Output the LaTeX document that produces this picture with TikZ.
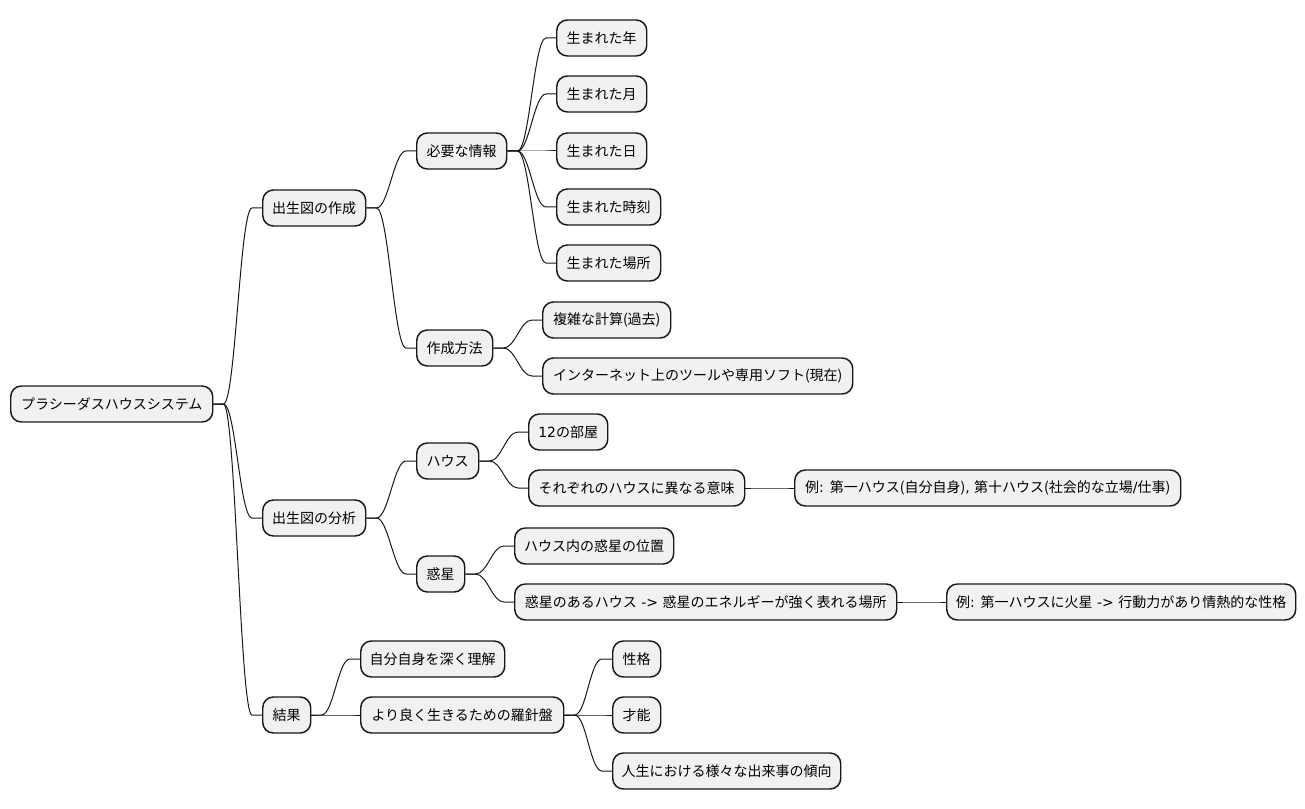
\documentclass[tikz,border=0pt]{standalone}
\usepackage{fontspec}
\setmainfont{Noto Sans CJK JP}
\newfontfamily\lat{DejaVu Sans}
\definecolor{boxfill}{HTML}{F1F1F1}
\definecolor{boxline}{HTML}{181818}
\tikzset{
  mmbox/.style={draw=boxline, fill=boxfill, line width=1.1pt, rounded corners=8pt,
    minimum height=27pt, inner xsep=0pt, inner ysep=0pt, anchor=west,
    font=\fontsize{10.5pt}{12pt}\selectfont, text=black},
  mmlink/.style={draw=boxline, line width=0.75pt}
}
\newcommand{\mmconn}[2]{%
  \draw[mmlink] (#1.east) -- ([xshift=7.5pt]#1.east)
    .. controls ([xshift=16.5pt]#1.east) and ([xshift=-16.5pt]#2.west)
    .. ([xshift=-7.5pt]#2.west) -- (#2.west);}
\begin{document}
\begin{tikzpicture}[x=0.75pt,y=-0.75pt]
\useasboundingbox (0,0) rectangle (1305,809);
\node[mmbox, minimum width=151.5pt] (root) at (10,404) {プラシーダスハウスシステム};
\node[mmbox, minimum width=77.25pt] (a1) at (262,208) {出生図の作成};
\node[mmbox, minimum width=67.5pt] (a11) at (416,151) {必要な情報};
\node[mmbox, minimum width=67.5pt] (b1) at (556,38) {生まれた年};
\node[mmbox, minimum width=67.5pt] (b2) at (556,94) {生まれた月};
\node[mmbox, minimum width=67.5pt] (b3) at (556,151) {生まれた日};
\node[mmbox, minimum width=78pt] (b4) at (556,207) {生まれた時刻};
\node[mmbox, minimum width=78pt] (b5) at (556,263) {生まれた場所};
\node[mmbox, minimum width=57pt] (a12) at (416,348) {作成方法};
\node[mmbox, minimum width=96pt] (c1) at (542,320) {複雑な計算(過去)};
\node[mmbox, minimum width=232.5pt] (c2) at (542,376) {インターネット上のツールや専用ソフト(現在)};
\node[mmbox, minimum width=77.25pt] (a2) at (262,518) {出生図の分析};
\node[mmbox, minimum width=46.5pt] (h) at (416,461) {ハウス};
\node[mmbox, minimum width=59.25pt] (h1) at (528,432) {{\lat 12}の部屋};
\node[mmbox, minimum width=162pt] (h2) at (528,488) {それぞれのハウスに異なる意味};
\node[mmbox, minimum width=289.5pt] (h2e) at (794,488) {例{\lat : }第一ハウス(自分自身){\lat , }第十ハウス(社会的な立場{\lat /}仕事)};
\node[mmbox, minimum width=36pt] (pl) at (416,574) {惑星};
\node[mmbox, minimum width=119.25pt] (p1) at (514,546) {ハウス内の惑星の位置};
\node[mmbox, minimum width=286.5pt] (p2) at (514,602) {惑星のあるハウス{\lat\ -> }惑星のエネルギーが強く表れる場所};
\node[mmbox, minimum width=261.75pt] (p2e) at (946,602) {例{\lat : }第一ハウスに火星{\lat\ -> }行動力があり情熱的な性格};
\node[mmbox, minimum width=36pt] (r) at (262,715) {結果};
\node[mmbox, minimum width=108pt] (r1) at (360,659) {自分自身を深く理解};
\node[mmbox, minimum width=152.25pt] (r2) at (360,715) {より良く生きるための羅針盤};
\node[mmbox, minimum width=36pt] (s1) at (612,659) {性格};
\node[mmbox, minimum width=36pt] (s2) at (612,715) {才能};
\node[mmbox, minimum width=171pt] (s3) at (612,771) {人生における様々な出来事の傾向};
\mmconn{root}{a1}
\mmconn{root}{a2}
\mmconn{root}{r}
\mmconn{a1}{a11}
\mmconn{a1}{a12}
\mmconn{a11}{b1}
\mmconn{a11}{b2}
\mmconn{a11}{b3}
\mmconn{a11}{b4}
\mmconn{a11}{b5}
\mmconn{a12}{c1}
\mmconn{a12}{c2}
\mmconn{a2}{h}
\mmconn{a2}{pl}
\mmconn{h}{h1}
\mmconn{h}{h2}
\mmconn{h2}{h2e}
\mmconn{pl}{p1}
\mmconn{pl}{p2}
\mmconn{p2}{p2e}
\mmconn{r}{r1}
\mmconn{r}{r2}
\mmconn{r2}{s1}
\mmconn{r2}{s2}
\mmconn{r2}{s3}
\end{tikzpicture}
\end{document}
